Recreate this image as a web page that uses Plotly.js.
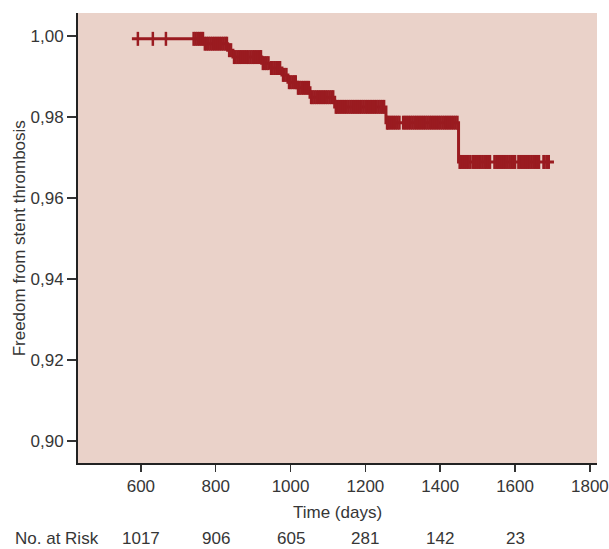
<!DOCTYPE html>
<html>
<head>
<meta charset="utf-8">
<script src="https://cdn.plot.ly/plotly-3.0.1.min.js"></script>
<style>html,body{margin:0;padding:0;background:#fff;}#chart{width:609px;height:549px;}</style>
</head>
<body>
<div id="chart"></div>
<script>
// Kaplan-Meier step curve (event times in days, survival after that time)
const stepTimes = [576, 768, 832, 846, 923, 945, 977, 993, 1017, 1052, 1118, 1255, 1449, 1704];
const stepSurv  = [0.9993, 0.9981, 0.9965, 0.9948, 0.9933, 0.9921, 0.9904, 0.9886, 0.9872, 0.9849, 0.9825, 0.9786, 0.9689, 0.9689];

// Censoring marks (days)
const censorTimes = [
  592, 632, 667, 741, 746, 751, 756, 761, 766,
  771, 776, 781, 786, 791, 796, 801, 806, 811, 816, 821, 826, 830,
  836, 841,
  849, 853, 858, 863, 868, 873, 878, 883, 888, 893, 898, 903, 908, 913, 918, 921,
  926, 931, 936, 941,
  948, 952, 957, 962, 967, 972,
  980, 984, 989,
  996, 1000, 1005, 1010, 1014,
  1020, 1024, 1029, 1034, 1039, 1044, 1049,
  1055, 1059, 1064, 1069, 1074, 1079, 1084, 1089, 1094, 1099, 1104, 1109, 1114,
  1121, 1125, 1130, 1135, 1140, 1145, 1150, 1155, 1160, 1165, 1170, 1175, 1180, 1185, 1190,
  1195, 1200, 1205, 1210, 1215, 1220, 1225, 1230, 1235, 1240, 1245, 1250,
  1258, 1261, 1266, 1271, 1276, 1281, 1286, 1291,
  1301, 1306, 1311, 1316, 1321, 1326, 1331, 1336, 1341, 1346, 1351, 1356, 1361, 1366, 1371,
  1376, 1381, 1386, 1391, 1396, 1401, 1406, 1411, 1416, 1421, 1426, 1431, 1436, 1441, 1446,
  1452, 1456, 1461, 1466, 1471, 1476, 1481,
  1488, 1493, 1498, 1503, 1508, 1513, 1518, 1523, 1528, 1533,
  1545, 1550, 1555, 1560, 1565, 1570, 1575, 1580, 1585, 1590, 1595, 1600,
  1609, 1614, 1619, 1624, 1629, 1634, 1639, 1644, 1649, 1654, 1659, 1664,
  1676, 1679, 1685, 1690
];

// Axis ticks
const xTickVals = [600, 800, 1000, 1200, 1400, 1600, 1800];
const yTickVals = [0.90, 0.92, 0.94, 0.96, 0.98, 1.00];
const yTickText = ['0,90', '0,92', '0,94', '0,96', '0,98', '1,00'];

// Number at risk row
const riskTimes = [600, 800, 1000, 1200, 1400, 1600];
const riskCounts = ['1017', '906', '605', '281', '142', '23'];

function survAt(t) {
  let s = stepSurv[0];
  for (let i = 0; i < stepTimes.length; i++) {
    if (stepTimes[i] <= t) s = stepSurv[i];
  }
  return s;
}

const col = '#9a1b20';
const txt = '#363636';
const font = 'Liberation Sans, Arial, sans-serif';
const riskY = -0.167;

const traces = [
  {
    x: stepTimes, y: stepSurv, type: 'scatter', mode: 'lines',
    line: {shape: 'hv', color: col, width: 3},
    hoverinfo: 'skip', showlegend: false
  },
  {
    x: censorTimes, y: censorTimes.map(survAt), type: 'scatter', mode: 'markers',
    marker: {symbol: 'line-ns', size: 10, line: {color: col, width: 2.5}, color: col},
    hoverinfo: 'skip', showlegend: false
  }
];

const annotations = [
  {text: 'No. at Risk', xref: 'paper', yref: 'paper', x: -0.126, y: riskY, xanchor: 'left', yanchor: 'middle',
   showarrow: false, font: {family: font, size: 17, color: txt}},
  {text: 'Freedom from stent thrombosis', xref: 'paper', yref: 'paper', x: -0.113, y: 0.5,
   xanchor: 'center', yanchor: 'middle', textangle: -90, showarrow: false,
   font: {family: font, size: 17, color: txt}}
];
riskTimes.forEach((t, i) => {
  annotations.push({text: riskCounts[i], xref: 'x', yref: 'paper', x: t, y: riskY,
    xanchor: 'center', yanchor: 'middle', showarrow: false, font: {family: font, size: 17, color: txt}});
});

const layout = {
  width: 609, height: 549,
  margin: {l: 78, r: 12, t: 13, b: 86},
  paper_bgcolor: '#ffffff',
  plot_bgcolor: '#ead2c9',
  font: {family: font, size: 17, color: txt},
  showlegend: false,
  xaxis: {
    range: [432, 1819], tickvals: xTickVals, ticks: 'outside', ticklen: 7, tickwidth: 1.5, tickcolor: '#333',
    showline: true, linecolor: '#222', linewidth: 2, showgrid: false, zeroline: false,
    tickfont: {family: font, size: 17, color: txt},
    title: {text: 'Time (days)', font: {family: font, size: 17, color: txt}, standoff: 11}
  },
  yaxis: {
    range: [0.89457, 1.00568], tickvals: yTickVals, ticktext: yTickText, ticks: 'outside', ticklen: 9, tickwidth: 1.5, tickcolor: '#333',
    showline: true, linecolor: '#222', linewidth: 2, showgrid: false, zeroline: false,
    tickfont: {family: font, size: 17, color: txt}
  },
  annotations: annotations
};

Plotly.newPlot('chart', traces, layout, {displayModeBar: false, staticPlot: true});
</script>
</body>
</html>
